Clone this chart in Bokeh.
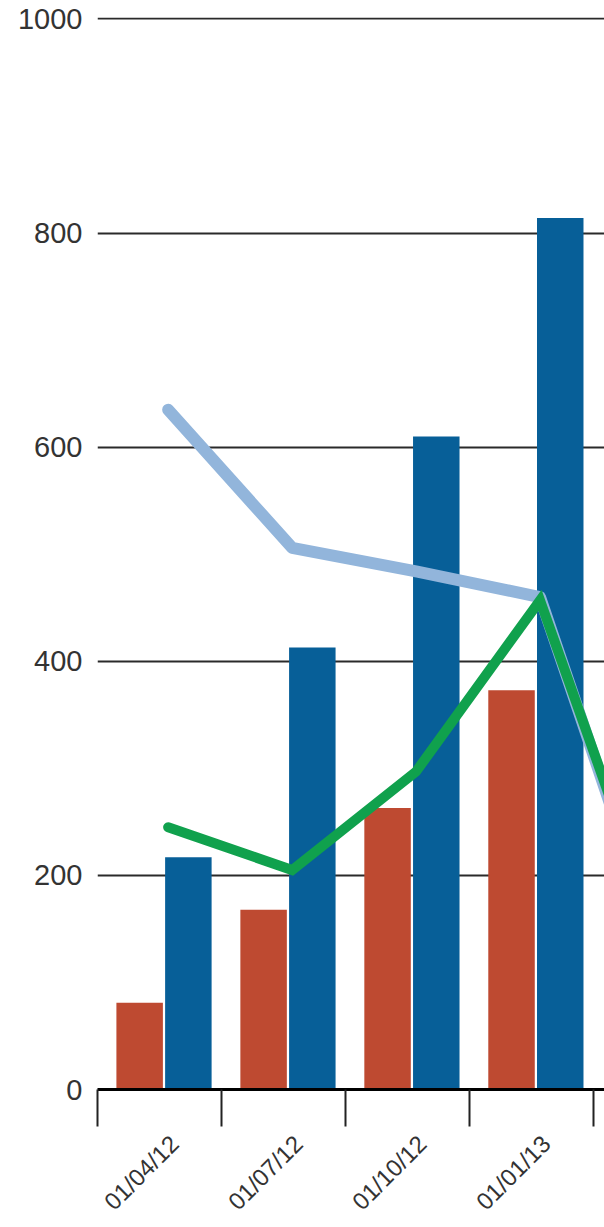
import numpy as np
from bokeh.plotting import figure
from bokeh.models import FixedTicker, Range1d, LinearAxis
from bokeh.embed import file_html
from bokeh.resources import INLINE

# ---- data ----
categories = ["01/04/12", "01/07/12", "01/10/12", "01/01/13", "01/04/13"]
bar_red = [81, 168, 263, 373]
bar_blue = [217, 413, 610, 814]
line_light_blue = [635, 506, 484, 460, 118]
line_green = [245, 205, 297, 457, 130]
y_ticks = [0, 200, 400, 600, 800, 1000]

FONT = "'Liberation Sans', Arial, sans-serif"
RED = "#BE4A31"
BLUE = "#075F98"
LBLUE = "#92B5DB"
GREEN = "#10A14D"

idx = np.arange(len(categories))
nb = len(bar_red)

p = figure(width=604, height=1227,
           x_range=Range1d(-0.62, 3.47), y_range=Range1d(0, 1001.4),
           output_backend="svg", toolbar_location=None, x_axis_type=None,
           min_border_left=97, min_border_top=17, min_border_right=0,
           min_border_bottom=137)
p.outline_line_color = None
p.background_fill_color = "white"

# y axis / grid
p.yaxis[0].ticker = FixedTicker(ticks=y_ticks)
p.yaxis[0].axis_line_color = None
p.yaxis[0].major_tick_line_color = None
p.yaxis[0].minor_tick_line_color = None
p.yaxis[0].major_tick_out = 0
p.yaxis[0].major_label_standoff = 15
p.yaxis[0].major_label_text_font = FONT
p.yaxis[0].major_label_text_font_size = "29px"
p.yaxis[0].major_label_text_color = "#333333"
p.ygrid[0].ticker = FixedTicker(ticks=y_ticks)
p.ygrid[0].grid_line_color = "#2a2a2a"
p.ygrid[0].grid_line_width = 2

# x axis: labels on integer positions, category boundaries drawn as (long) minor ticks
boundaries = [float(i) - 0.62 for i in idx]
xaxis = LinearAxis(ticker=FixedTicker(ticks=[int(i) for i in idx], minor_ticks=boundaries),
                   major_label_overrides={int(i): c for i, c in zip(idx, categories)})
xaxis.axis_line_color = "black"
xaxis.axis_line_width = 3
xaxis.major_tick_line_color = None
xaxis.major_tick_out = 36
xaxis.major_tick_in = 0
xaxis.minor_tick_line_color = "#222222"
xaxis.minor_tick_line_width = 2
xaxis.minor_tick_out = 37
xaxis.minor_tick_in = 0
xaxis.major_label_orientation = np.pi / 4
xaxis.major_label_standoff = 13
xaxis.major_label_text_font = FONT
xaxis.major_label_text_font_size = "24px"
xaxis.major_label_text_color = "#333333"
p.add_layout(xaxis, "below")

# bars
p.vbar(x=idx[:nb] - 0.28, width=0.375, top=bar_red, bottom=0,
       fill_color=RED, line_color=None)
p.vbar(x=idx[:nb] + 0.113, width=0.375, top=bar_blue, bottom=0,
       fill_color=BLUE, line_color=None)

# lines
p.line(x=idx - 0.05, y=line_light_blue, line_color=LBLUE, line_width=12,
       line_join="round", line_cap="round")
p.line(x=idx - 0.05, y=line_green, line_color=GREEN, line_width=10,
       line_join="miter", line_cap="round")

open("out.html", "w").write(file_html(p, INLINE))
